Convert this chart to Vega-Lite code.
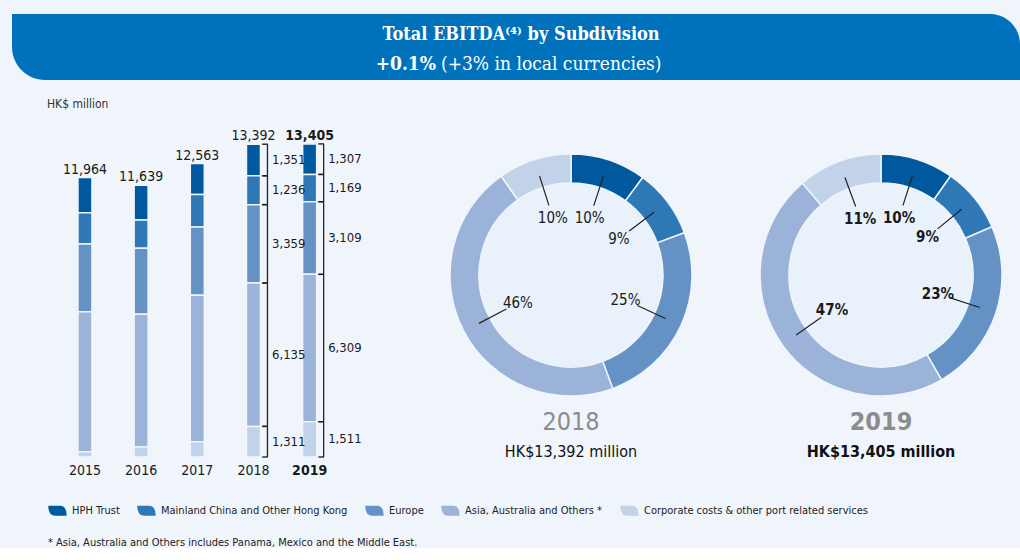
{
  "$schema": "https://vega.github.io/schema/vega-lite/v6.json",
  "background": "#F0F5FC",
  "padding": {"left": 12, "top": 14, "right": 0, "bottom": 0},
  "config": {
    "view": {"stroke": null},
    "font": "DejaVu Sans Condensed, sans-serif"
  },
  "datasets": {
    "seg": [
      {"year": "2015", "cat": "HPH Trust", "order": 1, "value": 1505, "pct": ""},
      {"year": "2015", "cat": "Mainland China and Other Hong Kong", "order": 2, "value": 1335, "pct": ""},
      {"year": "2015", "cat": "Europe", "order": 3, "value": 2900, "pct": ""},
      {"year": "2015", "cat": "Asia, Australia and Others *", "order": 4, "value": 5995, "pct": ""},
      {"year": "2015", "cat": "Corporate costs & other port related services", "order": 5, "value": 229, "pct": ""},
      {"year": "2016", "cat": "HPH Trust", "order": 1, "value": 1495, "pct": ""},
      {"year": "2016", "cat": "Mainland China and Other Hong Kong", "order": 2, "value": 1212, "pct": ""},
      {"year": "2016", "cat": "Europe", "order": 3, "value": 2820, "pct": ""},
      {"year": "2016", "cat": "Asia, Australia and Others *", "order": 4, "value": 5683, "pct": ""},
      {"year": "2016", "cat": "Corporate costs & other port related services", "order": 5, "value": 429, "pct": ""},
      {"year": "2017", "cat": "HPH Trust", "order": 1, "value": 1323, "pct": ""},
      {"year": "2017", "cat": "Mainland China and Other Hong Kong", "order": 2, "value": 1394, "pct": ""},
      {"year": "2017", "cat": "Europe", "order": 3, "value": 2916, "pct": ""},
      {"year": "2017", "cat": "Asia, Australia and Others *", "order": 4, "value": 6275, "pct": ""},
      {"year": "2017", "cat": "Corporate costs & other port related services", "order": 5, "value": 655, "pct": ""},
      {"year": "2018", "cat": "HPH Trust", "order": 1, "value": 1351, "pct": "10%"},
      {"year": "2018", "cat": "Mainland China and Other Hong Kong", "order": 2, "value": 1236, "pct": "9%"},
      {"year": "2018", "cat": "Europe", "order": 3, "value": 3359, "pct": "25%"},
      {"year": "2018", "cat": "Asia, Australia and Others *", "order": 4, "value": 6135, "pct": "46%"},
      {"year": "2018", "cat": "Corporate costs & other port related services", "order": 5, "value": 1311, "pct": "10%"},
      {"year": "2019", "cat": "HPH Trust", "order": 1, "value": 1307, "pct": "10%"},
      {"year": "2019", "cat": "Mainland China and Other Hong Kong", "order": 2, "value": 1169, "pct": "9%"},
      {"year": "2019", "cat": "Europe", "order": 3, "value": 3109, "pct": "23%"},
      {"year": "2019", "cat": "Asia, Australia and Others *", "order": 4, "value": 6309, "pct": "47%"},
      {"year": "2019", "cat": "Corporate costs & other port related services", "order": 5, "value": 1511, "pct": "11%"}
    ]
  },
  "bounds": "flush",
  "spacing": 50,
  "vconcat": [
    {
      "width": 1008,
      "height": 66,
      "data": {"values": [{}]},
      "layer": [
        {"mark": {"type": "rect", "fill": "#0072BB", "cornerRadiusTopRight": 30, "cornerRadiusBottomLeft": 40}, "encoding": {}},
        {"mark": {"type": "text", "font": "DejaVu Serif Condensed, Liberation Serif, serif", "fontWeight": "bold", "fontSize": 18, "fill": "white", "dy": -12, "dx": 5}, "encoding": {"text": {"value": "Total EBITDA⁽⁴⁾ by Subdivision"}}},
        {"mark": {"type": "text", "font": "DejaVu Serif Condensed, Liberation Serif, serif", "fontWeight": "bold", "fontSize": 19, "fill": "white", "dy": 17, "dx": -80, "align": "right"}, "encoding": {"text": {"value": "+0.1%"}}},
        {"mark": {"type": "text", "font": "DejaVu Serif Condensed, Liberation Serif, serif", "fontWeight": "normal", "fontSize": 19, "fill": "white", "dy": 17, "dx": -75, "align": "left"}, "encoding": {"text": {"value": "(+3% in local currencies)"}}}
      ]
    },
    {
      "bounds": "flush",
      "spacing": 40,
      "resolve": {"scale": {"color": "shared", "theta": "independent"}, "legend": {"color": "shared"}},
      "hconcat": [
        {
          "width": 384,
          "height": 327,
          "data": {"name": "seg"},
          "title": {"text": "HK$ million", "anchor": "start", "frame": "group", "dx": 35, "offset": 18, "fontSize": 12, "fontWeight": "normal", "color": "#333333"},
          "layer": [
            {
              "mark": {"type": "bar", "width": 14, "stroke": "#F0F5FC", "strokeWidth": 1.5},
              "encoding": {
                "x": {"field": "year", "type": "nominal", "title": null,
                  "scale": {"type": "band", "paddingInner": 0, "paddingOuter": 0.918, "align": 0.435},
                  "axis": {"domain": false, "ticks": false, "labelAngle": 0, "labelFontSize": 14, "labelColor": "#1a1a1a", "labelPadding": 6,
                    "labelFontWeight": {"condition": {"test": "datum.value == '2019'", "value": "bold"}, "value": "normal"}}},
                "y": {"field": "value", "type": "quantitative", "stack": "zero", "scale": {"domain": [0, 14000], "nice": false}, "axis": null},
                "color": {"field": "cat", "type": "nominal",
                  "scale": {"domain": ["HPH Trust", "Mainland China and Other Hong Kong", "Europe", "Asia, Australia and Others *", "Corporate costs & other port related services"],
                            "range": ["#00589F", "#2E78B6", "#6592C5", "#9BB3D8", "#C2D2E9"]},
                  "legend": {"orient": "none", "legendX": 36, "legendY": 487, "direction": "horizontal",
                    "title": "* Asia, Australia and Others includes Panama, Mexico and the Middle East.", "titleOrient": "bottom", "titleAnchor": "start",
                    "titleFontSize": 11, "titleFontWeight": "normal", "titleColor": "#222222", "titlePadding": 21, "titleLimit": 900,
                    "symbolType": "M-1,-0.55L0.25,-0.55Q1,-0.55 1,0.55L-0.25,0.55Q-1,0.55 -1,-0.55Z", "symbolSize": 340, "symbolStrokeWidth": 0,
                    "labelFontSize": 11, "labelColor": "#222222", "labelOffset": 5, "columnPadding": 17, "labelLimit": 400}},
                "order": {"field": "order", "sort": "descending"}
              }
            },
            {
              "transform": [{"filter": "datum.year != '2019'"}],
              "mark": {"type": "text", "fontSize": 14, "baseline": "alphabetic", "dy": -4, "fill": "#1a1a1a"},
              "encoding": {
                "x": {"field": "year", "type": "nominal"},
                "y": {"aggregate": "sum", "field": "value", "type": "quantitative"},
                "text": {"aggregate": "sum", "field": "value", "type": "quantitative", "format": ","}
              }
            },
            {
              "transform": [{"filter": "datum.year == '2019'"}],
              "mark": {"type": "text", "fontSize": 14, "fontWeight": "bold", "baseline": "alphabetic", "dy": -4, "fill": "#1a1a1a"},
              "encoding": {
                "x": {"field": "year", "type": "nominal"},
                "y": {"aggregate": "sum", "field": "value", "type": "quantitative"},
                "text": {"aggregate": "sum", "field": "value", "type": "quantitative", "format": ","}
              }
            },
            {
              "transform": [
                {"filter": "datum.year == '2018' || datum.year == '2019'"},
                {"stack": "value", "groupby": ["year"], "sort": [{"field": "order", "order": "descending"}], "as": ["y0", "y1"]}
              ],
              "layer": [
                {
                  "mark": {"type": "rule", "stroke": "#222222", "strokeWidth": 1.3},
                  "encoding": {
                    "x": {"field": "year", "type": "nominal", "bandPosition": 0.7492},
                    "y": {"field": "y0", "type": "quantitative"},
                    "y2": {"field": "y1"}
                  }
                },
                {
                  "transform": [{"fold": ["y0", "y1"], "as": ["k", "v"]}],
                  "mark": {"type": "point", "shape": "stroke", "size": 30, "filled": false, "stroke": "#222222", "strokeWidth": 1.4, "opacity": 1},
                  "encoding": {
                    "x": {"field": "year", "type": "nominal", "bandPosition": 0.7047},
                    "y": {"field": "v", "type": "quantitative"}
                  }
                },
                {
                  "transform": [
                    {"fold": ["y0", "y1"], "as": ["k", "v"]},
                    {"aggregate": [{"op": "mean", "field": "v", "as": "mid"}], "groupby": ["year", "cat", "value"]}
                  ],
                  "mark": {"type": "text", "align": "left", "baseline": "middle", "fontSize": 13, "fill": "#1a1a1a"},
                  "encoding": {
                    "x": {"field": "year", "type": "nominal", "bandPosition": 0.8294},
                    "y": {"field": "mid", "type": "quantitative"},
                    "text": {"field": "value", "type": "quantitative", "format": ","}
                  }
                }
              ]
            }
          ]
        },
        {
          "width": 270,
          "height": 290,
          "layer": [
            {"data": {"values": [{}]}, "mark": {"type": "arc", "innerRadius": 0, "outerRadius": 92, "theta": 0, "theta2": 6.2832, "fill": "#E9F1FA"}, "encoding": {}},
            {
              "data": {"name": "seg"},
              "transform": [{"filter": "datum.year == '2018'"}],
              "layer": [
                {
                  "mark": {"type": "arc", "innerRadius": 92, "outerRadius": 121, "stroke": "#F0F5FC", "strokeWidth": 1.5},
                  "encoding": {
                    "theta": {"field": "value", "type": "quantitative", "stack": true},
                    "color": {"field": "cat", "type": "nominal",
                      "scale": {"domain": ["HPH Trust", "Mainland China and Other Hong Kong", "Europe", "Asia, Australia and Others *", "Corporate costs & other port related services"],
                                "range": ["#00589F", "#2E78B6", "#6592C5", "#9BB3D8", "#C2D2E9"]},
                      "legend": {"orient": "none", "legendX": 36, "legendY": 487, "direction": "horizontal",
                        "title": "* Asia, Australia and Others includes Panama, Mexico and the Middle East.", "titleOrient": "bottom", "titleAnchor": "start",
                        "titleFontSize": 11, "titleFontWeight": "normal", "titleColor": "#222222", "titlePadding": 21, "titleLimit": 900,
                        "symbolType": "M-1,-0.55L0.25,-0.55Q1,-0.55 1,0.55L-0.25,0.55Q-1,0.55 -1,-0.55Z", "symbolSize": 340, "symbolStrokeWidth": 0,
                        "labelFontSize": 11, "labelColor": "#222222", "labelOffset": 5, "columnPadding": 17, "labelLimit": 400}},
                    "order": {"field": "order", "sort": "ascending"}
                  }
                },
                {
                  "transform": [
                    {"stack": "value", "groupby": ["year"], "sort": [{"field": "order", "order": "ascending"}], "as": ["s0", "s1"]},
                    {"fold": ["s0", "s1"], "as": ["k", "v"]},
                    {"aggregate": [{"op": "mean", "field": "v", "as": "mid"}], "groupby": ["cat", "pct"]}
                  ],
                  "layer": [
                    {"mark": {"type": "arc", "innerRadius": 73, "outerRadius": 104, "filled": false, "stroke": "#222222", "strokeWidth": 1.2},
                     "encoding": {"theta": {"field": "mid", "type": "quantitative", "stack": null}, "theta2": {"field": "mid"}}},
                    {"mark": {"type": "text", "radius": 60, "fontSize": 15, "fill": "#1a1a1a"},
                     "encoding": {"theta": {"field": "mid", "type": "quantitative", "stack": null}, "text": {"field": "pct"}}}
                  ]
                }
              ]
            },
            {"data": {"values": [{}]}, "mark": {"type": "text", "fontSize": 25, "fill": "#8C8C8C", "dy": 147}, "encoding": {"text": {"value": "2018"}}},
            {"data": {"values": [{}]}, "mark": {"type": "text", "fontSize": 16, "fill": "#111111", "dy": 177}, "encoding": {"text": {"value": "HK$13,392 million"}}}
          ]
        },
        {
          "width": 270,
          "height": 290,
          "layer": [
            {"data": {"values": [{}]}, "mark": {"type": "arc", "innerRadius": 0, "outerRadius": 92, "theta": 0, "theta2": 6.2832, "fill": "#E9F1FA"}, "encoding": {}},
            {
              "data": {"name": "seg"},
              "transform": [{"filter": "datum.year == '2019'"}],
              "layer": [
                {
                  "mark": {"type": "arc", "innerRadius": 92, "outerRadius": 121, "stroke": "#F0F5FC", "strokeWidth": 1.5},
                  "encoding": {
                    "theta": {"field": "value", "type": "quantitative", "stack": true},
                    "color": {"field": "cat", "type": "nominal",
                      "scale": {"domain": ["HPH Trust", "Mainland China and Other Hong Kong", "Europe", "Asia, Australia and Others *", "Corporate costs & other port related services"],
                                "range": ["#00589F", "#2E78B6", "#6592C5", "#9BB3D8", "#C2D2E9"]},
                      "legend": {"orient": "none", "legendX": 36, "legendY": 487, "direction": "horizontal",
                        "title": "* Asia, Australia and Others includes Panama, Mexico and the Middle East.", "titleOrient": "bottom", "titleAnchor": "start",
                        "titleFontSize": 11, "titleFontWeight": "normal", "titleColor": "#222222", "titlePadding": 21, "titleLimit": 900,
                        "symbolType": "M-1,-0.55L0.25,-0.55Q1,-0.55 1,0.55L-0.25,0.55Q-1,0.55 -1,-0.55Z", "symbolSize": 340, "symbolStrokeWidth": 0,
                        "labelFontSize": 11, "labelColor": "#222222", "labelOffset": 5, "columnPadding": 17, "labelLimit": 400}},
                    "order": {"field": "order", "sort": "ascending"}
                  }
                },
                {
                  "transform": [
                    {"stack": "value", "groupby": ["year"], "sort": [{"field": "order", "order": "ascending"}], "as": ["s0", "s1"]},
                    {"fold": ["s0", "s1"], "as": ["k", "v"]},
                    {"aggregate": [{"op": "mean", "field": "v", "as": "mid"}], "groupby": ["cat", "pct"]}
                  ],
                  "layer": [
                    {"mark": {"type": "arc", "innerRadius": 73, "outerRadius": 104, "filled": false, "stroke": "#222222", "strokeWidth": 1.2},
                     "encoding": {"theta": {"field": "mid", "type": "quantitative", "stack": null}, "theta2": {"field": "mid"}}},
                    {"mark": {"type": "text", "radius": 60, "fontSize": 15, "fontWeight": "bold", "fill": "#1a1a1a"},
                     "encoding": {"theta": {"field": "mid", "type": "quantitative", "stack": null}, "text": {"field": "pct"}}}
                  ]
                }
              ]
            },
            {"data": {"values": [{}]}, "mark": {"type": "text", "fontSize": 25, "fontWeight": "bold", "fill": "#8C8C8C", "dy": 147}, "encoding": {"text": {"value": "2019"}}},
            {"data": {"values": [{}]}, "mark": {"type": "text", "fontSize": 16, "fontWeight": "bold", "fill": "#111111", "dy": 177}, "encoding": {"text": {"value": "HK$13,405 million"}}}
          ]
        }
      ]
    }
  ]
}
